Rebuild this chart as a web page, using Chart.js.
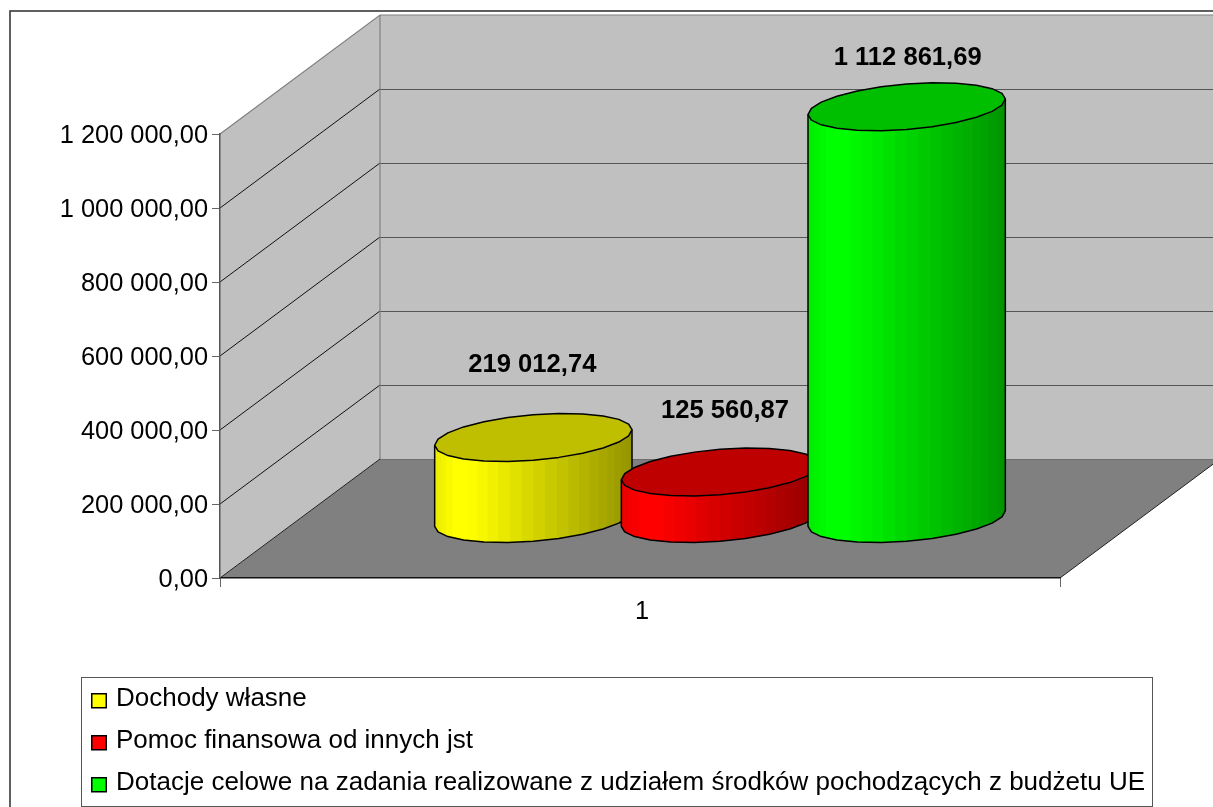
<!DOCTYPE html>
<html>
<head>
<meta charset="utf-8">
<style>html,body{margin:0;padding:0;background:#fff;overflow:hidden}canvas{display:block}</style>
<script src="https://cdn.jsdelivr.net/npm/chart.js@4/dist/chart.umd.js"></script>
</head>
<body>
<canvas id="c" width="1213" height="807"></canvas>
<script>
const categories = ['1'];
const seriesNames = ['Dochody własne', 'Pomoc finansowa od innych jst', 'Dotacje celowe na zadania realizowane z udziałem środków pochodzących z budżetu UE'];
const dochodyWlasne = [219012.74];
const pomocFinansowa = [125560.87];
const dotacjeCelowe = [1112861.69];
const seriesColors = [[255, 255, 0], [255, 0, 0], [0, 255, 0]];
const yMax = 1200000, yStep = 200000;

const FONT = '"Liberation Sans", Arial, sans-serif';
const DEPTH_X = 160, DEPTH_Y = -119;      // oblique projection of the plot's depth
const BAR_DX = 32, BAR_DY = -24;          // half-depth of a cylinder
const labelNudge = [[-1, -73], [5, -61], [1, -49]];
const LEGEND = { left: 75, top: 670, pad: 16, font: 26 };

function fmt(v) {
  const [i, d] = v.toFixed(2).split('.');
  return i.replace(/\B(?=(\d{3})+(?!\d))/g, ' ') + ',' + d;
}
function rgb(c, k) { return `rgb(${Math.round(c[0]*k)},${Math.round(c[1]*k)},${Math.round(c[2]*k)})`; }
function shade(s) {
  if (s < 0.1) return 0.92 + 0.08 * (s / 0.1);
  if (s < 0.18) return 1;
  return 1 - 0.42 * (s - 0.18) / 0.82;
}

function drawCylinder(ctx, el, col) {
  const cx = el.x + DEPTH_X / 2, top = el.y + DEPTH_Y / 2, base = el.base + DEPTH_Y / 2 + 0.5;
  const u = el.width / 2;
  const t0 = Math.atan2(BAR_DX, u), half = 12, strips = 26;
  const px = (t, cy) => [cx + u * Math.cos(t) + BAR_DX * Math.sin(t), cy + BAR_DY * Math.sin(t)];
  const xR = px(t0, 0)[0], xL = px(t0 + Math.PI, 0)[0];
  ctx.save();
  // curved side, in vertical strips
  for (let i = 0; i < strips; i++) {
    const a1 = t0 + Math.PI + Math.PI * i / strips, a2 = t0 + Math.PI + Math.PI * (i + 1) / strips;
    const p1 = px(a1, base), p2 = px(a2, base), q1 = px(a1, top), q2 = px(a2, top);
    const s = ((p1[0] + p2[0]) / 2 - xL) / (xR - xL);
    const ex = i < strips - 1 ? 0.7 : 0;
    ctx.fillStyle = rgb(col, shade(s));
    ctx.beginPath();
    ctx.moveTo(p1[0], p1[1]); ctx.lineTo(p2[0] + ex, p2[1]); ctx.lineTo(q2[0] + ex, q2[1]); ctx.lineTo(q1[0], q1[1]);
    ctx.closePath(); ctx.fill();
  }
  ctx.strokeStyle = '#000'; ctx.lineWidth = 1.5; ctx.lineJoin = 'round';
  // silhouette
  ctx.beginPath();
  let p = px(t0 + Math.PI, top); ctx.moveTo(p[0], p[1]);
  for (let i = 0; i <= half; i++) { p = px(t0 + Math.PI + Math.PI * i / half, base); ctx.lineTo(p[0], p[1]); }
  p = px(t0, top); ctx.lineTo(p[0], p[1]);
  ctx.stroke();
  // top face
  ctx.fillStyle = rgb(col, 0.75);
  ctx.beginPath();
  for (let i = 0; i < half * 2; i++) {
    p = px(t0 + Math.PI * i / half, top);
    if (i) ctx.lineTo(p[0], p[1]); else ctx.moveTo(p[0], p[1]);
  }
  ctx.closePath(); ctx.fill(); ctx.stroke();
  ctx.restore();
}

const scene = {
  id: 'scene',
  beforeLayout(chart) {
    const lg = chart.legend;
    if (lg && !lg.__patched) {
      lg.__patched = true;
      const f = lg.fit;
      lg.fit = function () { f.call(this); this.width = 0; };
    }
  },
  afterLayout(chart) {
    const lg = chart.legend;
    lg.left = LEGEND.left; lg.right = 1150; lg.width = lg.right - lg.left;
    lg.top = LEGEND.top; lg.bottom = 900; lg.height = lg.bottom - lg.top;
  },
  beforeDraw(chart) {
    const ctx = chart.ctx, a = chart.chartArea, ys = chart.scales.y;
    const l = a.left, r = a.right, t = a.top, b = a.bottom;
    ctx.save();
    // outer frame
    ctx.strokeStyle = '#444'; ctx.lineWidth = 1.7;
    ctx.strokeRect(10, 11, 1240, 830);
    // legend frame
    ctx.strokeStyle = '#555'; ctx.lineWidth = 1;
    ctx.strokeRect(81.5, 677.5, 1071, 129);
    // back + side walls
    ctx.fillStyle = '#c0c0c0';
    ctx.fillRect(l + DEPTH_X, t + DEPTH_Y, r - l, b - t);
    ctx.beginPath();
    ctx.moveTo(l, t); ctx.lineTo(l + DEPTH_X, t + DEPTH_Y);
    ctx.lineTo(l + DEPTH_X, b + DEPTH_Y); ctx.lineTo(l, b); ctx.closePath(); ctx.fill();
    // floor
    ctx.fillStyle = '#808080';
    ctx.beginPath();
    ctx.moveTo(l, b); ctx.lineTo(r, b);
    ctx.lineTo(r + DEPTH_X, b + DEPTH_Y); ctx.lineTo(l + DEPTH_X, b + DEPTH_Y); ctx.closePath(); ctx.fill();
    // grid lines on the walls
    ys.ticks.forEach(tk => {
      const y = ys.getPixelForValue(tk.value);
      if (tk.value === 0 || tk.value === yMax) return;
      ctx.lineWidth = 1;
      ctx.strokeStyle = '#555';
      ctx.beginPath(); ctx.moveTo(l + DEPTH_X, Math.round(y + DEPTH_Y) + .5); ctx.lineTo(r + DEPTH_X, Math.round(y + DEPTH_Y) + .5); ctx.stroke();
      ctx.strokeStyle = '#111';
      ctx.beginPath(); ctx.moveTo(l, y); ctx.lineTo(l + DEPTH_X, y + DEPTH_Y); ctx.stroke();
    });
    // wall edges
    ctx.strokeStyle = '#808080'; ctx.lineWidth = 1.2;
    ctx.beginPath();
    ctx.moveTo(l, t); ctx.lineTo(l + DEPTH_X, t + DEPTH_Y); ctx.lineTo(r + DEPTH_X, t + DEPTH_Y);
    ctx.moveTo(l + DEPTH_X, t + DEPTH_Y); ctx.lineTo(l + DEPTH_X, b + DEPTH_Y);
    ctx.stroke();
    ctx.strokeStyle = '#6e6e6e'; ctx.lineWidth = 1;
    ctx.beginPath(); ctx.moveTo(l + DEPTH_X, b + DEPTH_Y + .5); ctx.lineTo(r + DEPTH_X, b + DEPTH_Y + .5); ctx.stroke();
    // floor edges
    ctx.strokeStyle = '#222'; ctx.lineWidth = 1;
    ctx.beginPath();
    ctx.moveTo(l, b); ctx.lineTo(l + DEPTH_X, b + DEPTH_Y);
    ctx.moveTo(r, b); ctx.lineTo(r + DEPTH_X, b + DEPTH_Y);
    ctx.stroke();
    ctx.restore();
  },
  // Chart.js paints datasets last-to-first; the cylinders need first-to-last.
  beforeDatasetDraw() { return false; },
  afterDatasetsDraw(chart) {
    const ctx = chart.ctx;
    chart.data.datasets.forEach((ds, i) => {
      drawCylinder(ctx, chart.getDatasetMeta(i).data[0], seriesColors[i]);
    });
    ctx.save();
    ctx.font = 'bold 25.6px ' + FONT;
    ctx.fillStyle = '#000';
    ctx.textAlign = 'center'; ctx.textBaseline = 'middle';
    chart.data.datasets.forEach((ds, i) => {
      const el = chart.getDatasetMeta(i).data[0];
      ctx.fillText(fmt(ds.data[0]), el.x + DEPTH_X / 2 + labelNudge[i][0], el.y + DEPTH_Y / 2 + labelNudge[i][1]);
    });
    // legend swatches sit lower than the text centre in the original
    ctx.lineWidth = 1.5; ctx.strokeStyle = '#000';
    seriesColors.forEach((c, i) => {
      const rowC = LEGEND.top + LEGEND.pad + LEGEND.font / 2 + i * (LEGEND.font + LEGEND.pad);
      ctx.fillStyle = rgb(c, 1);
      ctx.fillRect(LEGEND.left + LEGEND.pad + .75, rowC - 5.25, 14.5, 14);
      ctx.strokeRect(LEGEND.left + LEGEND.pad + .75, rowC - 5.25, 14.5, 14);
    });
    ctx.restore();
  }
};

const seriesValues = [dochodyWlasne, pomocFinansowa, dotacjeCelowe];
new Chart(document.getElementById('c'), {
  type: 'bar',
  data: {
    labels: categories,
    datasets: seriesNames.map((name, i) => ({
      label: name,
      data: seriesValues[i],
      backgroundColor: rgb(seriesColors[i], 1),
      borderColor: '#000',
      borderWidth: 0
    }))
  },
  plugins: [scene],
  options: {
    responsive: false,
    animation: false,
    events: [],
    layout: { autoPadding: false, padding: { left: 0, top: 134, right: 153, bottom: 0 } },
    datasets: { bar: { categoryPercentage: 2 / 3, barPercentage: 1 } },
    scales: {
      x: {
        grid: { drawOnChartArea: false, drawTicks: true, tickLength: 9, tickColor: '#666', tickWidth: 1 },
        border: { color: '#111', width: 1.5 },
        ticks: { color: '#000', font: { family: FONT, size: 25.4 }, padding: 10, labelOffset: 2, maxRotation: 0 },
        afterFit(s) { s.height = 229; }
      },
      y: {
        min: 0, max: yMax,
        grid: { drawOnChartArea: false, drawTicks: true, tickLength: 8, tickColor: '#666', tickWidth: 1 },
        border: { color: '#555', width: 1.5 },
        ticks: { stepSize: yStep, color: '#000', font: { family: FONT, size: 25.4 }, padding: 4, labelOffset: 2, callback: v => fmt(v) },
        afterFit(s) { s.width = 220; }
      }
    },
    plugins: {
      tooltip: { enabled: false },
      title: { display: false },
      legend: {
        display: true,
        position: 'left',
        align: 'start',
        labels: {
          color: '#000',
          boxWidth: 12,
          boxHeight: 4,
          padding: LEGEND.pad,
          font: { family: FONT, size: LEGEND.font }
        }
      }
    }
  }
});
</script>
</body>
</html>
